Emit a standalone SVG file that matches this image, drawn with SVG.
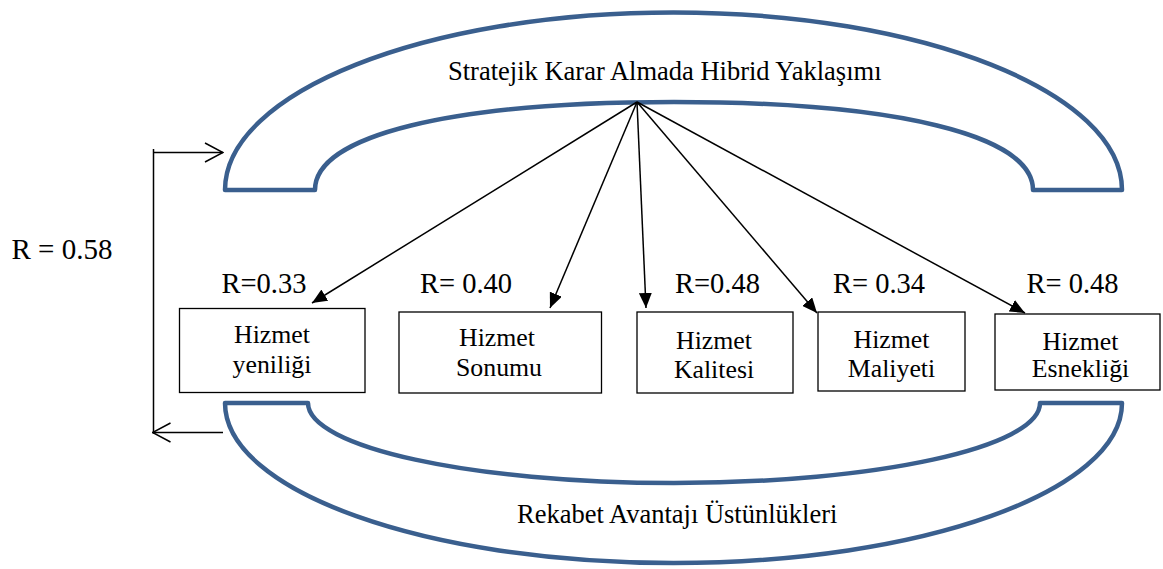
<svg xmlns="http://www.w3.org/2000/svg" width="1163" height="569" viewBox="0 0 1163 569">
  <style>
    .arch { fill: none; stroke: #3A5F8E; stroke-width: 4.5; stroke-linejoin: round; }
    .box { fill: #FFFFFF; stroke: #000000; stroke-width: 1.3; }
    .link { stroke: #000000; stroke-width: 1.5; fill: none; }
    .t { font-family: "Liberation Serif", "Times New Roman", serif; fill: #000000; }
    .big { font-size: 26.5px; }
    .r { font-size: 28.5px; }
    .lbl { font-size: 25.8px; text-anchor: middle; }
  </style>
  <defs>
    <marker id="solid" markerUnits="userSpaceOnUse" markerWidth="15" markerHeight="13" refX="15" refY="6.5" orient="auto">
      <path d="M0,0 L15,6.5 L0,13 z" fill="#000000"/>
    </marker>
    <marker id="open" markerUnits="userSpaceOnUse" markerWidth="20" markerHeight="22" refX="19" refY="11" orient="auto">
      <path d="M1,1.5 L19,11 L1,20.5" fill="none" stroke="#000000" stroke-width="1.5"/>
    </marker>
  </defs>

  <!-- upper block arc -->
  <g id="hybrid-approach">
    <path class="arch" d="M225,190 C225,92.4 424.8,12.5 673.5,12.5 C922.2,12.5 1122,92.4 1122,190 L1033,190 C1033,135.4 896.6,102 674,102 C451.4,102 315,135.4 315,190 Z"/>
    <text class="t big" x="448" y="80">Stratejik Karar Almada Hibrid Yaklaşımı</text>
  </g>

  <!-- lower block arc -->
  <g id="competitive-advantage">
    <path class="arch" d="M225,403 C225,491.4 425.8,563 673.5,563 C921.2,563 1122,491.4 1122,403 L1040,403 C1040,447.2 876.1,483 674,483 C471.9,483 308,447.2 308,403 Z"/>
    <text class="t big" x="517" y="522.5">Rekabet Avantajı Üstünlükleri</text>
  </g>

  <!-- service dimension boxes -->
  <g id="innovation">
    <rect class="box" x="179.5" y="308.5" width="185.5" height="84"/>
    <text class="t lbl" x="272" y="343">Hizmet</text>
    <text class="t lbl" x="272" y="372.5">yeniliği</text>
    <text class="t r" x="221.5" y="292.5">R=0.33</text>
  </g>
  <g id="delivery">
    <rect class="box" x="399" y="312" width="202.5" height="81"/>
    <text class="t lbl" x="497" y="346">Hizmet</text>
    <text class="t lbl" x="499" y="375.5">Sonumu</text>
    <text class="t r" x="420" y="292.5">R= 0.40</text>
  </g>
  <g id="quality">
    <rect class="box" x="637" y="312" width="156" height="81"/>
    <text class="t lbl" x="714" y="349">Hizmet</text>
    <text class="t lbl" x="714" y="378">Kalitesi</text>
    <text class="t r" x="675" y="292.5">R=0.48</text>
  </g>
  <g id="cost">
    <rect class="box" x="818" y="312" width="147" height="79"/>
    <text class="t lbl" x="891.5" y="348">Hizmet</text>
    <text class="t lbl" x="891.5" y="377">Maliyeti</text>
    <text class="t r" x="833" y="292.5">R= 0.34</text>
  </g>
  <g id="flexibility">
    <rect class="box" x="995" y="314" width="165" height="76"/>
    <text class="t lbl" x="1080.5" y="350">Hizmet</text>
    <text class="t lbl" x="1080.5" y="377">Esnekliği</text>
    <text class="t r" x="1026.5" y="292.5">R= 0.48</text>
  </g>

  <!-- overall correlation bracket -->
  <g id="overall">
    <text class="t r" x="11.5" y="259" style="font-size:29px">R = 0.58</text>
  </g>

  <!-- connectors -->
  <g id="connectors">
    <line class="link" x1="637" y1="102" x2="312" y2="303" marker-end="url(#solid)"/>
    <line class="link" x1="637" y1="102" x2="550" y2="308" marker-end="url(#solid)"/>
    <line class="link" x1="637" y1="102" x2="646" y2="308" marker-end="url(#solid)"/>
    <line class="link" x1="637" y1="102" x2="817" y2="313" marker-end="url(#solid)"/>
    <line class="link" x1="637" y1="102" x2="1025" y2="313" marker-end="url(#solid)"/>
    <line class="link" x1="153.5" y1="149" x2="153.5" y2="433.5"/>
    <line class="link" x1="153.5" y1="152.5" x2="223" y2="152.5" marker-end="url(#open)"/>
    <line class="link" x1="223" y1="432.5" x2="152.5" y2="432.5" marker-end="url(#open)"/>
  </g>
</svg>
